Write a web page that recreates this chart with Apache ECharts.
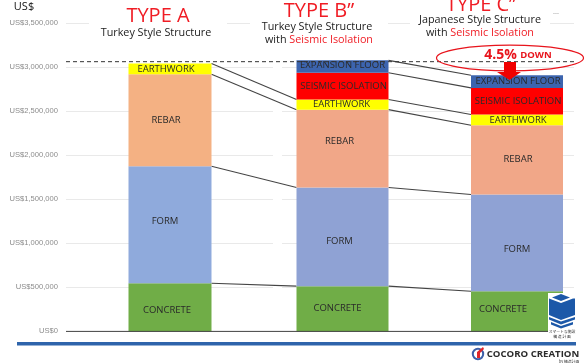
<!DOCTYPE html>
<html>
<head>
<meta charset="utf-8">
<style>html,body{margin:0;padding:0;background:#fff}#chart{width:588px;height:363px}</style>
<script src="https://cdn.jsdelivr.net/npm/echarts@6/dist/echarts.min.js"></script>
</head>
<body>
<div id="chart"></div>
<script>
// Construction cost per structure type, in US$, one array per trade (bottom to top).
const structureTypes = ['TYPE A', 'TYPE B”', 'TYPE C”'];
const concrete  = [548000, 514000, 457000];
const form      = [1329000, 1121000, 1099000];
const rebar     = [1046000, 885000, 787000];
const earthwork = [121000, 115000, 122000];
const seismic   = [0, 305000, 302000];
const expansion = [0, 140000, 144000];
const referenceLevel = 3065000;
const yTicks = { min: 0, max: 3500000, interval: 500000 };

// Column slots on the hidden x axis and their drawn widths.
const slots = [1, 2, 3];
const slotNudge = [0, -1, 0];
const barWidths = [83, 92, 92];
const xRange = [0.4006, 3.3285];

const trades = [
  { name: 'CONCRETE', values: concrete, colors: ['#70ad47', '#70ad47', '#70ad47'], shift: [[-3, 3], [-5, 0], [-14, -2]] },
  { name: 'FORM', values: form, colors: ['#8faadc', '#8fa2d4', '#8fa2d4'], shift: [[-5, -3], [-3, 4], [0, 6]] },
  { name: 'REBAR', values: rebar, colors: ['#f4b183', '#f1a788', '#f1a788'], shift: [[-4, 0], [-3, -7], [1, -1]] },
  { name: 'EARTHWORK', values: earthwork, colors: ['#ffff00', '#ffff00', '#ffff00'], shift: [[-4, 0], [-1, 0], [1, 0]] },
  { name: 'SEISMIC ISOLATION', values: seismic, colors: ['#ff0000', '#ff0000', '#ff0000'], shift: [[0, 0], [1, 0], [1, 0]] },
  { name: 'EXPANSION FLOOR', values: expansion, colors: ['#3c64ae', '#3c64ae', '#3c64ae'], shift: [[0, 0], [0, -1], [1, 0]] }
];

const font = '"Open Sans", sans-serif';

// Running top of each trade per column.
function tops(column, upTo) {
  let sum = 0;
  for (let i = 0; i <= upTo; i++) sum += trades[i].values[column];
  return sum;
}

const barSeries = trades.map((trade, tradeIndex) => ({
  type: 'custom',
  name: trade.name,
  coordinateSystem: 'cartesian2d',
  z: 3,
  clip: false,
  data: slots.map((slot, i) => [slot, tops(i, tradeIndex) - trade.values[i], tops(i, tradeIndex), i]),
  renderItem(params, api) {
    const i = api.value(3);
    if (trade.values[i] === 0) return null;
    const low = api.coord([api.value(0), api.value(1)]);
    const high = api.coord([api.value(0), api.value(2)]);
    const cx = low[0] + slotNudge[i];
    const w = barWidths[i];
    return {
      type: 'group',
      children: [
        { type: 'rect', shape: { x: cx - w / 2, y: high[1], width: w, height: low[1] - high[1] },
          style: { fill: trade.colors[i] } },
        { type: 'text', z2: 5,
          x: cx + trade.shift[i][0], y: (low[1] + high[1]) / 2 + trade.shift[i][1],
          style: { text: trade.name, fill: '#2a2a2a', font: '9.5px ' + font, align: 'center', verticalAlign: 'middle' } }
      ]
    };
  }
}));

// Lines tying the same trade boundary across neighbouring columns.
const links = [];
[[0, 1], [1, 2]].forEach(([a, b]) => {
  trades.forEach((trade, t) => {
    if (trade.values[a] === 0 && a === 0 && trade.values[b] !== 0) return;
    links.push([a, tops(a, t), b, tops(b, t)]);
  });
});

const linkSeries = {
  type: 'custom',
  name: 'links',
  coordinateSystem: 'cartesian2d',
  z: 2,
  clip: false,
  data: links,
  renderItem(params, api) {
    const a = api.value(0), b = api.value(2);
    const p0 = api.coord([slots[a], api.value(1)]);
    const p1 = api.coord([slots[b], api.value(3)]);
    return {
      type: 'line',
      shape: {
        x1: p0[0] + slotNudge[a] + barWidths[a] / 2, y1: p0[1],
        x2: p1[0] + slotNudge[b] - barWidths[b] / 2, y2: p1[1]
      },
      style: { stroke: '#444', lineWidth: 1.1 }
    };
  }
};

const levelSeries = {
  type: 'line',
  name: 'reference level',
  z: 4,
  symbol: 'none',
  silent: true,
  lineStyle: { color: '#333', width: 1, type: [4, 3] },
  data: [[xRange[0], referenceLevel], [xRange[1], referenceLevel]]
};

const baselineSeries = {
  type: 'line',
  name: 'baseline',
  z: 6,
  symbol: 'none',
  silent: true,
  lineStyle: { color: '#444', width: 1 },
  data: [[xRange[0], 0], [3.2, 0]]
};

function caption(x, y, text, size, fill, extra) {
  return Object.assign({
    type: 'text', x, y, z: 20,
    style: { text, fill: fill || '#222', font: size + 'px ' + font, align: 'center', verticalAlign: 'middle' }
  }, extra || {});
}
function richCaption(x, y, text) {
  return {
    type: 'text', x, y, z: 20,
    style: {
      text, fill: '#222', font: '10.8px ' + font, align: 'center', verticalAlign: 'middle',
      rich: { r: { fill: '#f01c24', font: '10.8px ' + font } }
    }
  };
}
const white = (x, y, width, height) => ({ type: 'rect', z: 1, shape: { x, y, width, height }, style: { fill: '#fff' } });

const graphics = [
  white(89, 15, 138, 16), white(250, 15, 138, 16), white(410, 15, 140, 16), white(273, 55, 9, 245),
  caption(24, 7, 'US$', 11, '#111'),
  caption(158, 16, structureTypes[0], 20, '#f01c24'),
  caption(156, 33, 'Turkey Style Structure', 10.8),
  caption(319, 11, structureTypes[1], 20, '#f01c24'),
  caption(317, 27, 'Turkey Style Structure', 10.8),
  richCaption(319, 40, 'with {r|Seismic Isolation}'),
  caption(481, 5, structureTypes[2], 20, '#f01c24'),
  caption(480, 20, 'Japanese Style Structure', 10.8),
  richCaption(480, 33, 'with {r|Seismic Isolation}'),
  { type: 'ellipse', z: 20, shape: { cx: 510, cy: 58, rx: 73.5, ry: 12.8 }, style: { fill: 'none', stroke: '#e8141c', lineWidth: 1.2 } },
  {
    type: 'text', x: 518, y: 55, z: 21,
    style: {
      text: '{a|4.5%} {b|DOWN}', align: 'center', verticalAlign: 'middle', fill: '#e8141c',
      rich: {
        a: { fill: '#e8141c', font: 'bold 14px ' + font },
        b: { fill: '#e8141c', font: 'bold 9.5px ' + font }
      }
    }
  },
  { type: 'polygon', z: 21, shape: { points: [[504, 62], [516, 62], [516, 72], [521, 72], [509.5, 80], [497, 72], [504, 72]] }, style: { fill: '#f00000' } },
  { type: 'text', x: 556, y: 13, z: 20, style: { text: '---', fill: '#999', font: '6px ' + font, align: 'center', verticalAlign: 'middle' } },
  // Footer rule
  { type: 'rect', z: 20, shape: { x: 17, y: 342, width: 559, height: 3.5 }, style: { fill: '#2e64ab' } },
  // Emblem at the lower right
  { type: 'rect', z: 20, shape: { x: 548, y: 293, width: 28, height: 47 }, style: { fill: '#fff' } },
  { type: 'polygon', z: 21, shape: { points: [[561, 294], [570, 297.5], [561, 301], [552, 297.5]] }, style: { fill: '#1c58a8' } },
  { type: 'polygon', z: 21, shape: { points: [[549, 298.5], [561, 303], [573, 298.5], [575, 298.5], [575, 315], [561, 320], [549, 315]] }, style: { fill: '#1c58a8' } },
  { type: 'polygon', z: 21, shape: { points: [[549, 317], [561, 321.5], [575, 317], [575, 319.5], [561, 324.5], [549, 319.5]] }, style: { fill: '#1c58a8' } },
  { type: 'polygon', z: 21, shape: { points: [[551, 322], [561, 326], [573, 322], [573, 324.5], [561, 328.5], [551, 324.5]] }, style: { fill: '#1c58a8' } },
  { type: 'text', x: 562, y: 332, z: 21, style: { text: 'スマートな施設', fill: '#333', font: '3.8px "Noto Sans CJK JP"', align: 'center', verticalAlign: 'middle' } },
  { type: 'text', x: 562, y: 337, z: 21, style: { text: '構 造 計 画', fill: '#333', font: '3.8px "Noto Sans CJK JP"', align: 'center', verticalAlign: 'middle' } },
  // Company mark
  { type: 'circle', z: 21, shape: { cx: 478, cy: 354, r: 5.2 }, style: { fill: 'none', stroke: '#3d5fa8', lineWidth: 2 } },
  { type: 'polygon', z: 22, shape: { points: [[477, 352], [483, 347], [484, 349], [480, 353], [480, 358], [477, 358]] }, style: { fill: '#e0262a' } },
  { type: 'text', x: 533, y: 354, z: 21, style: { text: 'COCORO CREATION', fill: '#2b2b2b', font: 'bold 9.6px ' + font, align: 'center', verticalAlign: 'middle' } },
  { type: 'text', x: 569, y: 361.5, z: 21, style: { text: 'by 構造計画', fill: '#444', font: '3.8px "Noto Sans CJK JP"', align: 'center', verticalAlign: 'middle' } }
];

const chart = echarts.init(document.getElementById('chart'), null, { renderer: 'canvas' });
chart.setOption({
  animation: false,
  backgroundColor: '#fff',
  grid: { left: 66, right: 14, top: 23.4, bottom: 31.6 },
  xAxis: { type: 'value', min: xRange[0], max: xRange[1], show: false },
  yAxis: {
    type: 'value',
    min: yTicks.min, max: yTicks.max, interval: yTicks.interval,
    axisLine: { show: false },
    axisTick: { show: false },
    splitLine: { lineStyle: { color: '#e9e9e9', width: 1 } },
    axisLabel: {
      margin: 8,
      color: '#8c8c8c',
      fontFamily: 'Liberation Sans, sans-serif',
      fontSize: 7.6,
      formatter: (v) => 'US$' + v.toLocaleString('en-US')
    }
  },
  graphic: graphics,
  series: [linkSeries, ...barSeries, levelSeries, baselineSeries]
});
</script>
</body>
</html>
